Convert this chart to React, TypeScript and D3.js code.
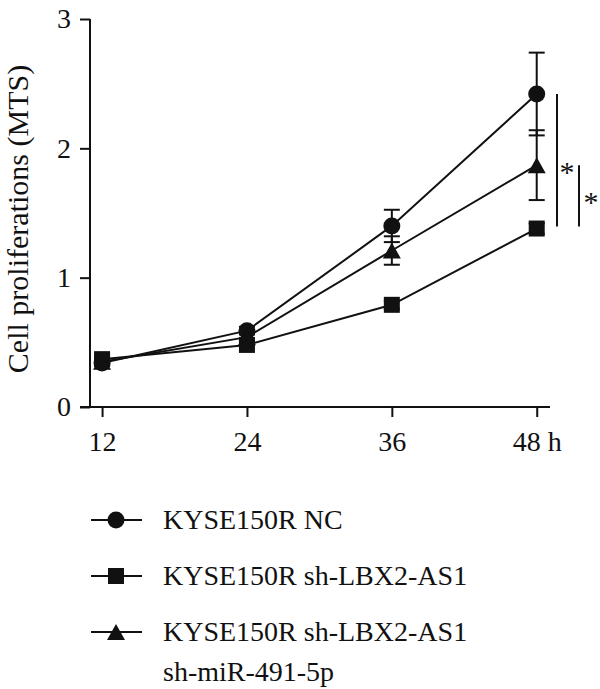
import React, { useEffect, useRef } from 'react';
import * as d3 from 'd3';

// time points (h) and mean MTS readings with error bars
const hours = [12, 24, 36, 48];
const hourLabels = ['12', '24', '36', '48 h'];
const yTicks = [0, 1, 2, 3];

const ncMean = [0.34, 0.59, 1.4, 2.42];
const ncErr = [0.02, 0.03, 0.125, 0.32];
const shMean = [0.37, 0.48, 0.79, 1.38];
const shErr = [0.02, 0.02, 0.03, 0.04];
const shMirMean = [0.35, 0.54, 1.21, 1.87];
const shMirErr = [0.02, 0.03, 0.11, 0.27];

const seriesNames = ['KYSE150R NC', 'KYSE150R sh-LBX2-AS1', 'KYSE150R sh-LBX2-AS1|sh-miR-491-5p'];

const FONT = "'Liberation Serif', 'Times New Roman', serif";

// marker paths, all centred on their bounding box
const markerPath = (kind: string) => {
  if (kind === 'circle') return d3.symbol().type(d3.symbolCircle).size(227)()!;
  if (kind === 'square') return 'M-8,-8H8V8H-8Z';
  return 'M0,-8L9,8H-9Z';
};

const App = () => {
  const ref = useRef<HTMLDivElement>(null);

  useEffect(() => {
    const root = d3.select(ref.current);
    root.selectAll('*').remove();
    const svg = root.append('svg').attr('width', 600).attr('height', 689)
      .style('display', 'block').style('font-family', FONT);

    const x = d3.scaleLinear().domain([11, 49.1]).range([90, 550]);
    const y = d3.scaleLinear().domain([0, 3]).range([407, 19]);

    // axes
    const yAxis = svg.append('g').attr('transform', 'translate(90,0)')
      .call(d3.axisLeft(y).tickValues(yTicks).tickFormat(d3.format('d')).tickSize(10).tickPadding(9));
    yAxis.select('.domain').attr('d', `M0,${y(3)}V${y(0)}`);
    const xAxis = svg.append('g').attr('transform', `translate(0,${y(0)})`)
      .call(d3.axisBottom(x).tickValues(hours).tickFormat((_, i) => hourLabels[i]).tickSize(10).tickPadding(14));
    xAxis.select('.domain').attr('d', `M80,0H${x(49.1)}`);
    svg.selectAll('.domain, .tick line').attr('stroke', '#111').attr('stroke-width', 2);
    svg.selectAll('.tick text')
      .style('font-size', '28px').style('font-family', FONT).attr('fill', '#111');

    svg.append('text')
      .attr('transform', `translate(28,${(y(0) + y(3)) / 2 + 6}) rotate(-90)`)
      .attr('text-anchor', 'middle').style('font-size', '30px').attr('fill', '#111')
      .text('Cell proliferations (MTS)');

    const series = [
      { mean: ncMean, err: ncErr, kind: 'circle' },
      { mean: shMean, err: shErr, kind: 'square' },
      { mean: shMirMean, err: shMirErr, kind: 'triangle' },
    ];

    const line = d3.line<number>().x((_, i) => x(hours[i])).y(d => y(d));
    const plot = svg.append('g');

    series.forEach(s => {
      plot.append('path').attr('d', line(s.mean)).attr('fill', 'none')
        .attr('stroke', '#111').attr('stroke-width', 2);
    });

    // error bars
    series.forEach(s => {
      s.mean.forEach((m, i) => {
        const cx = x(hours[i]);
        const g = plot.append('g').attr('stroke', '#111').attr('stroke-width', 2);
        g.append('line').attr('x1', cx).attr('x2', cx).attr('y1', y(m - s.err[i])).attr('y2', y(m + s.err[i]));
        [m - s.err[i], m + s.err[i]].forEach(v => {
          g.append('line').attr('x1', cx - 8).attr('x2', cx + 8).attr('y1', y(v)).attr('y2', y(v));
        });
      });
    });

    series.forEach(s => {
      plot.selectAll(null).data(s.mean).enter().append('path')
        .attr('d', markerPath(s.kind))
        .attr('transform', (d, i) => `translate(${x(hours[i])},${y(d)})`)
        .attr('fill', '#111');
    });

    // significance bars at 48 h
    const last = hours.length - 1;
    const sig = svg.append('g').attr('stroke', '#111').attr('stroke-width', 2);
    sig.append('line').attr('x1', 557).attr('x2', 557)
      .attr('y1', y(ncMean[last])).attr('y2', y(shMean[last]) - 2);
    sig.append('line').attr('x1', 579).attr('x2', 579)
      .attr('y1', y(shMirMean[last])).attr('y2', y(shMean[last]) - 2);
    svg.append('text').attr('x', 567).attr('y', 182).attr('text-anchor', 'middle')
      .style('font-size', '30px').attr('fill', '#111').text('*');
    svg.append('text').attr('x', 591).attr('y', 212).attr('text-anchor', 'middle')
      .style('font-size', '30px').attr('fill', '#111').text('*');

    // legend
    const rows = [520, 576, 632];
    const legend = svg.append('g');
    series.forEach((s, i) => {
      const g = legend.append('g').attr('transform', `translate(0,${rows[i]})`);
      g.append('line').attr('x1', 91).attr('x2', 142).attr('stroke', '#111').attr('stroke-width', 2);
      g.append('path').attr('d', markerPath(s.kind)).attr('transform', 'translate(116,0)').attr('fill', '#111');
      const t = g.append('text').attr('x', 163).attr('y', 9).style('font-size', '28px').attr('fill', '#111');
      seriesNames[i].split('|').forEach((part, k) => {
        t.append('tspan').attr('x', 163).attr('dy', k === 0 ? 0 : 40).text(part);
      });
    });
  }, []);

  return <div ref={ref} style={{ position: 'absolute', left: 0, top: 0 }} />;
};

export default App;
